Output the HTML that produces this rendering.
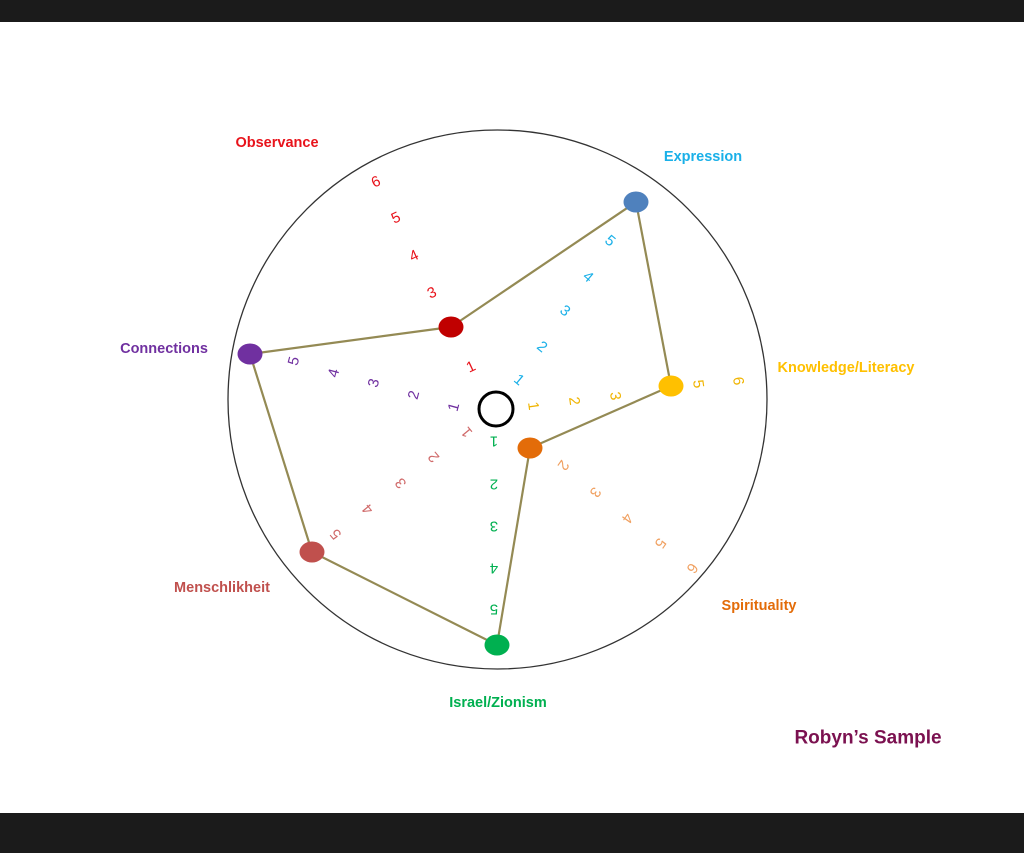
<!DOCTYPE html>
<html><head><meta charset="utf-8"><style>
html,body{margin:0;padding:0;background:#fff;}
svg{display:block;font-family:"Liberation Sans",sans-serif;}
</style></head><body>
<svg width="1024" height="853" viewBox="0 0 1024 853" xmlns="http://www.w3.org/2000/svg">
<rect x="0" y="0" width="1024" height="853" fill="#fff"/>
<rect x="0" y="0" width="1024" height="22" fill="#1b1b1b"/>
<rect x="0" y="813" width="1024" height="40" fill="#1b1b1b"/>
<circle cx="497.5" cy="399.5" r="269.5" fill="none" stroke="#333" stroke-width="1.3"/>
<circle cx="496" cy="409" r="17" fill="none" stroke="#000" stroke-width="3"/>
<g stroke="#948a54" stroke-width="2.2" fill="none">
<polyline points="451,327 636,202 671,386 530,448 497,645 312,552 250,354 451,327"/>
</g>
<ellipse cx="636" cy="202" rx="12.5" ry="10.5" fill="#4f81bd"/>
<ellipse cx="671" cy="386" rx="12.5" ry="10.5" fill="#ffc000"/>
<ellipse cx="530" cy="448" rx="12.5" ry="10.5" fill="#e36c09"/>
<ellipse cx="497" cy="645" rx="12.5" ry="10.5" fill="#00b050"/>
<ellipse cx="312" cy="552" rx="12.5" ry="10.5" fill="#c0504d"/>
<ellipse cx="250" cy="354" rx="12.5" ry="10.5" fill="#7030a0"/>
<ellipse cx="451" cy="327" rx="12.5" ry="10.5" fill="#c00000"/>
<g font-size="15" text-anchor="middle" dominant-baseline="central">
<g fill="#e8131b">
<text transform="translate(471,367) rotate(-25)">1</text>
<text transform="translate(432,293) rotate(-25)">3</text>
<text transform="translate(414,256) rotate(-25)">4</text>
<text transform="translate(396,218) rotate(-25)">5</text>
<text transform="translate(376,182) rotate(-25)">6</text>
</g>
<g fill="#1ab0e8">
<text transform="translate(519,380) rotate(40)">1</text>
<text transform="translate(542,347) rotate(40)">2</text>
<text transform="translate(565,311) rotate(40)">3</text>
<text transform="translate(588,277) rotate(40)">4</text>
<text transform="translate(610,241) rotate(40)">5</text>
</g>
<g fill="#f0b400">
<text transform="translate(533,406) rotate(82)">1</text>
<text transform="translate(574,401) rotate(82)">2</text>
<text transform="translate(615,396) rotate(82)">3</text>
<text transform="translate(698,384) rotate(82)">5</text>
<text transform="translate(738,381) rotate(82)">6</text>
</g>
<g fill="#f0a060">
<text transform="translate(563,465) rotate(125)">2</text>
<text transform="translate(595,492) rotate(125)">3</text>
<text transform="translate(627,518) rotate(125)">4</text>
<text transform="translate(660,543) rotate(125)">5</text>
<text transform="translate(692,568) rotate(125)">6</text>
</g>
<g fill="#00b050">
<text transform="translate(494,441) rotate(180)">1</text>
<text transform="translate(494,484) rotate(180)">2</text>
<text transform="translate(494,526) rotate(180)">3</text>
<text transform="translate(494,568) rotate(180)">4</text>
<text transform="translate(494,609) rotate(180)">5</text>
</g>
<g fill="#d06a6a">
<text transform="translate(467,432) rotate(-130)">1</text>
<text transform="translate(434,457) rotate(-130)">2</text>
<text transform="translate(401,483) rotate(-130)">3</text>
<text transform="translate(368,509) rotate(-130)">4</text>
<text transform="translate(336,534) rotate(-130)">5</text>
</g>
<g fill="#7030a0">
<text transform="translate(454,407) rotate(-75)">1</text>
<text transform="translate(414,395) rotate(-75)">2</text>
<text transform="translate(374,383) rotate(-75)">3</text>
<text transform="translate(334,373) rotate(-75)">4</text>
<text transform="translate(294,361) rotate(-75)">5</text>
</g>
</g>
<g font-size="14.5" font-weight="bold" text-anchor="middle" dominant-baseline="central">
<text x="277" y="143" fill="#e8131b">Observance</text>
<text x="703" y="157" fill="#1ab0e8">Expression</text>
<text x="846" y="368" fill="#ffc000">Knowledge/Literacy</text>
<text x="759" y="606" fill="#e36c09">Spirituality</text>
<text x="498" y="703" fill="#00b050">Israel/Zionism</text>
<text x="222" y="588" fill="#c0504d">Menschlikheit</text>
<text x="164" y="349" fill="#7030a0">Connections</text>
<text x="868" y="738" fill="#7b1150" font-size="19">Robyn’s Sample</text>
</g>
</svg>
</body></html>
